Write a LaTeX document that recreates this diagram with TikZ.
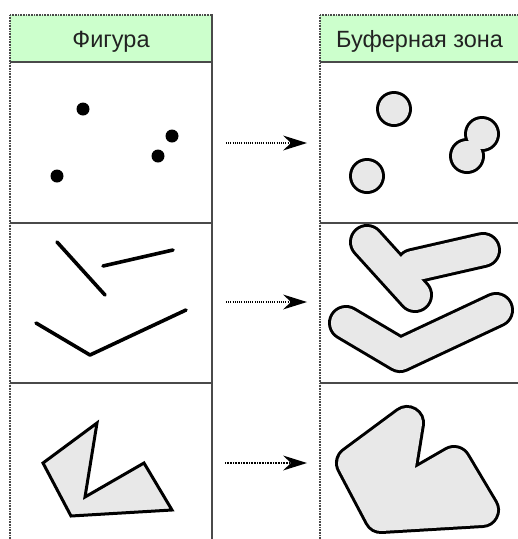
\documentclass[tikz,border=0pt]{standalone}
\usepackage{fontspec}
\setmainfont{Liberation Sans}
\usetikzlibrary{arrows.meta}
\definecolor{hdr}{HTML}{CCFFCC}
\definecolor{grid}{HTML}{4A4A4A}
\definecolor{lightfill}{HTML}{E8E8E8}
\definecolor{txt}{HTML}{222222}
\tikzset{
  gridline/.style={draw=grid, line width=1.8pt},
  dotedge/.style={draw=grid, line width=1.6pt, dash pattern=on 0.8pt off 0.8pt},
  hdrtext/.style={font=\fontsize{23.5}{26}\selectfont, text=txt, inner sep=0pt, anchor=base},
  figline/.style={line width=3.6pt, line cap=round, line join=round},
  figpoly/.style={draw=black, fill=lightfill, line width=3pt, line join=miter},
  dotmark/.style={fill=black},
  bufout/.style={draw=black, line width=36pt, line cap=round, line join=round},
  bufin/.style={draw=lightfill, line width=30pt, line cap=round, line join=round},
  headtip/.tip={Stealth[length=24pt,width=15pt,inset=8pt,line width=0pt]},
  flow/.style={line width=1.6pt, dash pattern=on 1pt off 1.2pt, -headtip},
  flowb/.style={line width=2.2pt, dash pattern=on 1pt off 0.6pt, -headtip}
}
\begin{document}
\begin{tikzpicture}[x=1pt,y=-1pt]
\useasboundingbox (0,0) rectangle (518,539);
% headers
\fill[hdr] (10,15) rectangle (212,62);
\fill[hdr] (320,15) rectangle (518,62);
\node[hdrtext] (h1) at (111,47) {Фигура};
\node[hdrtext, anchor=base west] (h2) at (336,47) {Буферная зона};
% left table
\draw[dotedge] (10,15) -- (212,15);
\draw[dotedge] (10,15) -- (10,539);
\draw[gridline] (212,14) -- (212,539);
\draw[gridline] (10,62) -- (212,62);
\draw[gridline] (10,223) -- (212,223);
\draw[gridline] (10,383) -- (212,383);
% right table
\draw[dotedge] (320,15) -- (518,15);
\draw[dotedge] (320,15) -- (320,539);
\draw[gridline] (320,62) -- (518,62);
\draw[gridline] (320,223) -- (518,223);
\draw[gridline] (320,383) -- (518,383);
% row 1 left: points
\fill[dotmark] (83,109) circle (6.5);
\fill[dotmark] (172,136) circle (6.5);
\fill[dotmark] (158,156) circle (6.5);
\fill[dotmark] (57,176) circle (6.5);
% row 1 right: buffers
\fill[black] (394,109) circle (18) (367,176) circle (18) (482,134) circle (18) (467,156) circle (18);
\fill[lightfill] (394,109) circle (15) (367,176) circle (15) (482,134) circle (15) (467,156) circle (15);
% row 2 left: lines
\draw[figline] (57,242) -- (105,295);
\draw[figline] (103,266) -- (173,250);
\draw[figline] (36,323) -- (90,355) -- (186,310);
% row 2 right: buffers
\draw[bufout] (367,242) -- (415,295);
\draw[bufout] (413,266) -- (483,250);
\draw[bufout] (346,323) -- (400,355) -- (496,310);
\draw[bufin] (367,242) -- (415,295);
\draw[bufin] (413,266) -- (483,250);
\draw[bufin] (346,323) -- (400,355) -- (496,310);
% row 3 left: polygon
\draw[figpoly] (43,463) -- (97,423) -- (85,497) -- (144,463) -- (172,510) -- (71,516) -- cycle;
% row 3 right: buffer
\draw[bufout, fill=black] (353,463) -- (407,423) -- (395,497) -- (454,463) -- (482,510) -- (381,516) -- cycle;
\draw[bufin, fill=lightfill] (353,463) -- (407,423) -- (395,497) -- (454,463) -- (482,510) -- (381,516) -- cycle;
% arrows
\coordinate (a1) at (226,143); \coordinate (b1) at (307,143);
\coordinate (a2) at (226,302); \coordinate (b2) at (307,302);
\coordinate (a3) at (225,463); \coordinate (b3) at (307,463);
\draw[flow] (a1) -- (b1);
\draw[flow] (a2) -- (b2);
\draw[flowb] (a3) -- (b3);
\end{tikzpicture}
\end{document}
